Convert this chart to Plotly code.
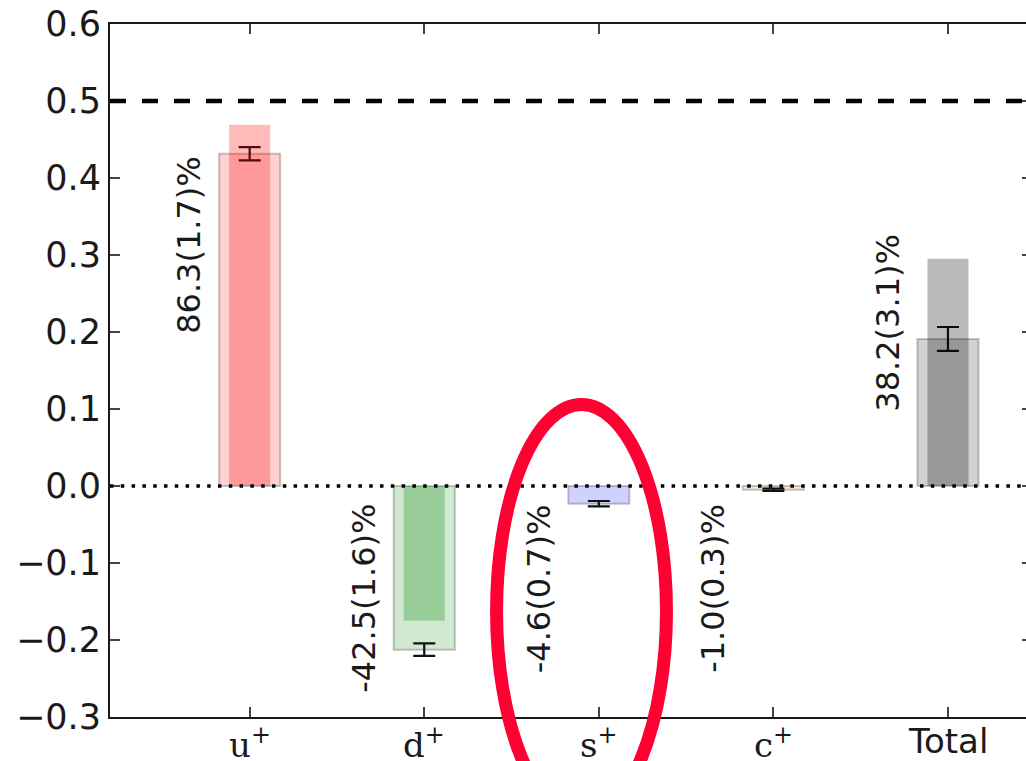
import plotly.graph_objects as go

# ---- data ----
categories = ["u+", "d+", "s+", "c+", "Total"]
tick_labels = [
    '<span style="font-family:DejaVu Serif">u<sup>+</sup></span>',
    '<span style="font-family:DejaVu Serif">d<sup>+</sup></span>',
    '<span style="font-family:DejaVu Serif">s<sup>+</sup></span>',
    '<span style="font-family:DejaVu Serif">c<sup>+</sup></span>',
    'Total',
]
wide_values = [0.4315, -0.2125, -0.023, -0.005, 0.191]
wide_errors = [0.0085, 0.008, 0.0035, 0.0015, 0.0155]
narrow_values = [0.469, -0.175, 0.0, 0.0, 0.295]
pct_labels = ["86.3(1.7)%", "-42.5(1.6)%", "-4.6(0.7)%", "-1.0(0.3)%", "38.2(3.1)%"]
label_top = [0.432, -0.021, -0.021, -0.021, 0.33]
half_line = 0.5

base_rgb = ["255,0,0", "0,128,0", "0,0,255", "205,133,63", "0,0,0"]
wide_colors = [f"rgba({c},0.18)" for c in base_rgb]
narrow_colors = [f"rgba({c},0.27)" for c in base_rgb]

xs = list(range(len(categories)))

fig = go.Figure()
fig.add_trace(go.Bar(
    x=xs, y=wide_values, width=0.35,
    marker=dict(color=wide_colors, line=dict(color="rgba(0,0,0,0.22)", width=2)),
    error_y=dict(type="data", array=wide_errors, color="#111111", thickness=2.2, width=11),
    showlegend=False,
))
fig.add_trace(go.Bar(
    x=xs, y=narrow_values, width=0.235,
    marker=dict(color=narrow_colors, line=dict(width=0)),
    showlegend=False,
))
# dummy trace for right-side ticks
fig.add_trace(go.Scatter(x=[xs[0]], y=[0], yaxis="y2", mode="markers",
                         marker=dict(opacity=0), showlegend=False, hoverinfo="skip"))

for i, (lab, yt) in enumerate(zip(pct_labels, label_top)):
    fig.add_annotation(
        x=i - 0.345, y=yt, xref="x", yref="y", text=lab, textangle=-90,
        showarrow=False, xanchor="center", yanchor="top",
        font=dict(family="DejaVu Sans", size=32, color="#1a1a1a"),
    )

# category labels below the axis
for i, lab in enumerate(tick_labels):
    fig.add_annotation(
        x=i, y=0, xref="x", yref="paper", text=lab, showarrow=False,
        xanchor="center", yanchor="top", yshift=-2,
        font=dict(family="DejaVu Sans", size=34, color="#1a1a1a"),
    )

# reference lines
fig.add_shape(type="line", xref="paper", x0=0, x1=1, yref="y", y0=half_line, y1=half_line,
              line=dict(color="black", width=4.5, dash="16px,16px"))
fig.add_shape(type="line", xref="paper", x0=0, x1=1, yref="y", y0=0, y1=0,
              line=dict(color="black", width=3.5, dash="3.5px,7.3px"))

# red ellipse highlight (paper coordinates)
fig.add_shape(type="circle", xref="paper", yref="paper",
              x0=0.422, x1=0.6075, y0=-0.1457, y1=0.451,
              line=dict(color="#ff0033", width=13), fillcolor="rgba(0,0,0,0)")

yticks = [-0.3, -0.2, -0.1, 0.0, 0.1, 0.2, 0.3, 0.4, 0.5, 0.6]
yticktext = [("\u2212" if v < 0 else "") + f"{abs(v):.1f}" for v in yticks]

fig.update_layout(
    width=1026, height=761,
    margin=dict(l=110, r=0, t=24, b=44),
    plot_bgcolor="white", paper_bgcolor="white",
    barmode="overlay",
    font=dict(family="DejaVu Sans", size=35, color="#1a1a1a"),
    xaxis=dict(
        range=[-0.8, 4.447], tickmode="array", tickvals=xs, showticklabels=False,
        showline=True, linecolor="#1a1a1a", linewidth=2, mirror="ticks",
        ticks="inside", ticklen=10, tickwidth=1.5, tickcolor="#444444",
        showgrid=False, zeroline=False, automargin=False,
    ),
    yaxis=dict(
        range=[-0.3, 0.6], tickmode="array", tickvals=yticks, ticktext=yticktext,
        showline=True, linecolor="#1a1a1a", linewidth=2, mirror=False,
        ticks="inside", ticklen=10, tickwidth=1.5, tickcolor="#444444",
        showgrid=False, zeroline=False, tickfont=dict(size=35), automargin=False,
    ),
    yaxis2=dict(
        range=[-0.3, 0.6], overlaying="y", side="right", anchor="x",
        tickmode="array", tickvals=yticks, showticklabels=False,
        ticks="inside", ticklen=4, tickwidth=1.5, tickcolor="#444444",
        showline=False, showgrid=False, zeroline=False, automargin=False,
    ),
)

fig.write_html("out.html")
